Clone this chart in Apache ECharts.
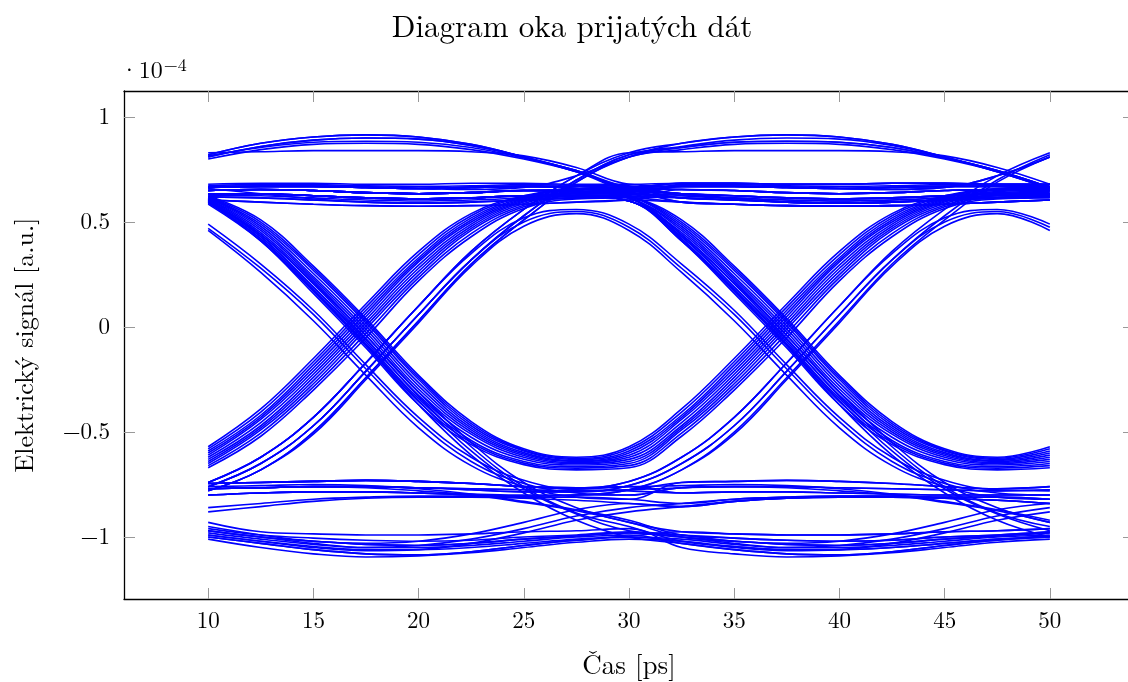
<!DOCTYPE html>
<html>
<head>
<meta charset="utf-8">
<script src="https://cdn.jsdelivr.net/npm/echarts@6/dist/echarts.min.js"></script>
<style>html,body{margin:0;padding:0;background:#fff}#c{width:1128px;height:682px}</style>
</head>
<body>
<div id="c"></div>
<script>
// time samples (ps): first and second unit interval of the eye
const timeA = [10, 12.5, 15, 17.5, 20, 22.5, 25, 27.5, 30];
const timeB = [30, 32.5, 35, 37.5, 40, 42.5, 45, 47.5, 50];
const xTicks = [10, 15, 20, 25, 30, 35, 40, 45, 50];
const yTicks = [-1, -0.5, 0, 0.5, 1];

// signal (x 1e-4) of each trace family over one unit interval
const topHump1 = [0.82, 0.875, 0.905, 0.915, 0.905, 0.87, 0.81, 0.74, 0.66];
const topHump2 = [0.81, 0.86, 0.89, 0.90, 0.895, 0.865, 0.81, 0.745, 0.665];
const topHump3 = [0.80, 0.845, 0.87, 0.875, 0.87, 0.845, 0.80, 0.74, 0.66];
const topHump4 = [0.815, 0.855, 0.88, 0.885, 0.88, 0.855, 0.805, 0.745, 0.665];
const topFlat  = [0.83, 0.835, 0.84, 0.84, 0.84, 0.835, 0.815, 0.76, 0.68];
const highToTop = [0.665, 0.67, 0.67, 0.665, 0.66, 0.655, 0.665, 0.72, 0.81];
const high1  = [0.68, 0.685, 0.685, 0.68, 0.68, 0.685, 0.685, 0.68, 0.68];
const high2  = [0.665, 0.67, 0.67, 0.665, 0.66, 0.665, 0.67, 0.67, 0.665];
const high2b = [0.673, 0.678, 0.678, 0.672, 0.67, 0.673, 0.678, 0.675, 0.672];
const high3  = [0.65, 0.655, 0.65, 0.64, 0.635, 0.64, 0.65, 0.655, 0.65];
const high4  = [0.635, 0.635, 0.625, 0.615, 0.61, 0.615, 0.625, 0.635, 0.635];
const high4b = [0.628, 0.625, 0.615, 0.605, 0.60, 0.605, 0.615, 0.625, 0.628];
const high5  = [0.62, 0.615, 0.605, 0.595, 0.59, 0.595, 0.605, 0.615, 0.62];
const high6  = [0.605, 0.595, 0.585, 0.578, 0.575, 0.578, 0.585, 0.595, 0.605];
const highSettle = [0.66, 0.635, 0.61, 0.595, 0.59, 0.595, 0.605, 0.615, 0.62];
const highDroop1 = [0.665, 0.67, 0.67, 0.665, 0.66, 0.665, 0.67, 0.66, 0.625];
const highDroop2 = [0.65, 0.655, 0.65, 0.64, 0.635, 0.64, 0.65, 0.645, 0.615];
const highDroop3 = [0.635, 0.635, 0.625, 0.615, 0.61, 0.615, 0.625, 0.625, 0.60];
const riseFast1  = [-0.57, -0.39, -0.15, 0.11, 0.36, 0.54, 0.625, 0.66, 0.665];
const riseFast1b = [-0.58, -0.405, -0.165, 0.095, 0.345, 0.53, 0.62, 0.657, 0.662];
const riseFast2  = [-0.59, -0.42, -0.18, 0.08, 0.33, 0.52, 0.615, 0.655, 0.66];
const riseFast2b = [-0.60, -0.43, -0.195, 0.065, 0.32, 0.51, 0.61, 0.65, 0.655];
const riseFast3  = [-0.61, -0.44, -0.21, 0.05, 0.31, 0.50, 0.605, 0.645, 0.65];
const riseFast3b = [-0.62, -0.455, -0.225, 0.035, 0.295, 0.49, 0.60, 0.64, 0.645];
const riseFast4  = [-0.63, -0.47, -0.24, 0.02, 0.28, 0.48, 0.595, 0.635, 0.64];
const riseFast4b = [-0.64, -0.48, -0.255, 0.005, 0.265, 0.47, 0.588, 0.63, 0.635];
const riseFast5  = [-0.65, -0.49, -0.27, -0.01, 0.25, 0.46, 0.58, 0.625, 0.63];
const riseFast5b = [-0.66, -0.505, -0.285, -0.03, 0.235, 0.445, 0.573, 0.618, 0.622];
const riseFast6  = [-0.67, -0.52, -0.30, -0.05, 0.22, 0.43, 0.565, 0.61, 0.615];
const fallValley1  = [0.625, 0.51, 0.29, 0.04, -0.23, -0.45, -0.58, -0.62, -0.57];
const fallValley1b = [0.622, 0.50, 0.28, 0.03, -0.24, -0.46, -0.585, -0.625, -0.58];
const fallValley2  = [0.62, 0.49, 0.27, 0.02, -0.25, -0.47, -0.59, -0.63, -0.59];
const fallValley2b = [0.617, 0.48, 0.255, 0.005, -0.265, -0.48, -0.598, -0.635, -0.60];
const fallValley3  = [0.615, 0.47, 0.24, -0.01, -0.28, -0.49, -0.605, -0.64, -0.61];
const fallValley3b = [0.612, 0.46, 0.23, -0.025, -0.295, -0.50, -0.612, -0.645, -0.62];
const fallValley4  = [0.61, 0.45, 0.22, -0.04, -0.31, -0.51, -0.62, -0.65, -0.63];
const fallValley4b = [0.605, 0.44, 0.205, -0.055, -0.325, -0.525, -0.63, -0.657, -0.64];
const fallValley5  = [0.60, 0.43, 0.19, -0.07, -0.34, -0.54, -0.64, -0.665, -0.65];
const fallValley5b = [0.597, 0.42, 0.175, -0.085, -0.355, -0.55, -0.648, -0.672, -0.66];
const fallValley6  = [0.595, 0.41, 0.16, -0.10, -0.37, -0.56, -0.655, -0.68, -0.67];
const fallBottom1 = [0.60, 0.44, 0.21, -0.04, -0.31, -0.55, -0.74, -0.86, -0.93];
const fallBottom2 = [0.59, 0.42, 0.18, -0.08, -0.35, -0.59, -0.77, -0.89, -0.97];
const fallBottom3 = [0.585, 0.41, 0.17, -0.09, -0.37, -0.61, -0.79, -0.92, -1.00];
const fallBottom4 = [0.605, 0.43, 0.19, -0.06, -0.33, -0.57, -0.76, -0.885, -0.95];
const fallFast1 = [0.49, 0.30, 0.08, -0.18, -0.43, -0.62, -0.73, -0.775, -0.78];
const fallFast2 = [0.47, 0.28, 0.06, -0.20, -0.45, -0.64, -0.745, -0.79, -0.80];
const fallFast3 = [0.46, 0.26, 0.03, -0.23, -0.48, -0.66, -0.76, -0.81, -0.82];
const riseHump1 = [-0.74, -0.62, -0.43, -0.17, 0.10, 0.35, 0.52, 0.56, 0.49];
const riseHump2 = [-0.76, -0.65, -0.47, -0.21, 0.06, 0.32, 0.50, 0.55, 0.475];
const riseHump3 = [-0.78, -0.68, -0.51, -0.25, 0.02, 0.29, 0.48, 0.54, 0.46];
const riseTop1 = [-0.74, -0.62, -0.43, -0.17, 0.10, 0.36, 0.56, 0.72, 0.83];
const riseTop2 = [-0.76, -0.65, -0.47, -0.21, 0.06, 0.32, 0.53, 0.70, 0.82];
const riseTop3 = [-0.78, -0.68, -0.50, -0.24, 0.03, 0.30, 0.51, 0.69, 0.81];
const low1 = [-0.745, -0.74, -0.735, -0.73, -0.735, -0.745, -0.76, -0.77, -0.76];
const low2 = [-0.77, -0.765, -0.76, -0.76, -0.765, -0.77, -0.775, -0.78, -0.775];
const low3 = [-0.80, -0.79, -0.785, -0.785, -0.79, -0.795, -0.80, -0.80, -0.80];
const low4 = [-0.86, -0.84, -0.82, -0.81, -0.805, -0.805, -0.81, -0.81, -0.82];
const low5 = [-0.88, -0.855, -0.83, -0.815, -0.81, -0.81, -0.815, -0.825, -0.84];
const lowLift1 = [-0.745, -0.74, -0.735, -0.73, -0.735, -0.745, -0.76, -0.765, -0.735];
const lowLift2 = [-0.77, -0.765, -0.76, -0.76, -0.765, -0.775, -0.785, -0.785, -0.755];
const lowLift3 = [-0.80, -0.79, -0.785, -0.785, -0.79, -0.80, -0.805, -0.80, -0.775];
const lowToBottom1 = [-0.77, -0.765, -0.76, -0.765, -0.78, -0.80, -0.835, -0.875, -0.93];
const lowToBottom2 = [-0.76, -0.755, -0.75, -0.755, -0.77, -0.795, -0.83, -0.87, -0.92];
const bottomToLow1 = [-0.95, -0.99, -1.02, -1.03, -1.02, -0.985, -0.93, -0.87, -0.84];
const bottomToLow2 = [-0.97, -1.0, -1.03, -1.05, -1.04, -1.01, -0.96, -0.90, -0.86];
const bottomToLow3 = [-0.99, -1.02, -1.05, -1.065, -1.06, -1.03, -0.98, -0.92, -0.88];
const bottom1 = [-0.93, -0.975, -0.985, -0.99, -0.99, -0.985, -0.975, -0.97, -0.96];
const bottom2 = [-0.97, -1.0, -1.02, -1.035, -1.04, -1.03, -1.01, -0.995, -0.98];
const bottom3 = [-1.0, -1.03, -1.06, -1.08, -1.085, -1.07, -1.04, -1.015, -1.0];
const bottom4 = [-1.01, -1.05, -1.08, -1.095, -1.09, -1.075, -1.05, -1.025, -1.01];
const bottom5 = [-0.99, -1.02, -1.045, -1.06, -1.06, -1.05, -1.03, -1.01, -0.995];
const bottom6 = [-0.96, -0.99, -1.005, -1.015, -1.02, -1.015, -1.0, -0.99, -0.975];
const bottom7 = [-0.98, -1.01, -1.035, -1.05, -1.05, -1.04, -1.02, -1.0, -0.99];

// each received trace: family in first interval -> family in second interval
const traces = [
  [riseTop1, topHump1], [riseTop2, topHump2], [riseTop3, topHump3], [highToTop, topHump4],
  [riseTop1, topFlat], [riseTop3, topHump1], [riseTop2, topHump4],
  [topHump1, highSettle], [topHump2, high2], [topHump3, highSettle], [topHump4, high3],
  [topFlat, highToTop], [topHump2, high4], [topHump1, high1],
  [high1, high1], [high2, high1], [high3, high6], [high4, high2], [high5, high5], [high6, high3],
  [highSettle, high4], [high2, highToTop], [high5, high2], [high4, high5], [high3, high4], [high6, high6],
  [high2b, high4b], [high4b, high2b],
  [highDroop1, fallValley1], [highDroop1, fallValley2b], [highDroop2, fallValley3], [highDroop2, fallValley4b],
  [highDroop3, fallValley6], [highDroop3, fallBottom3], [highDroop2, fallBottom1], [highDroop1, fallValley1b],
  [highDroop3, fallValley5], [highDroop1, fallValley2], [highDroop2, fallValley3b], [highDroop3, fallValley4],
  [highDroop2, fallBottom2], [highDroop3, fallBottom4], [highDroop2, fallValley5b],
  [riseFast1, high2], [riseFast1b, high1], [riseFast2, high3], [riseFast2b, high3], [riseFast3, high5],
  [riseFast3b, high4], [riseFast4, high6], [riseFast4b, high5], [riseFast5, highSettle], [riseFast6, high6],
  [riseFast5b, high4b],
  [fallValley1, riseFast1], [fallValley1b, riseFast1b], [fallValley2, riseFast2], [fallValley2b, riseFast2b],
  [fallValley3, riseFast3], [fallValley3b, riseFast3b], [fallValley4, riseFast4], [fallValley4b, riseFast4b],
  [fallValley5, riseFast5], [fallValley6, riseFast6], [fallValley5b, riseFast5b],
  [fallBottom1, bottom1], [fallBottom2, bottomToLow1], [fallBottom3, bottom3], [fallBottom4, bottom5],
  [fallFast1, low3], [fallFast2, low2], [fallFast3, low1],
  [riseHump1, fallFast1], [riseHump2, fallFast2], [riseHump3, fallFast3],
  [low1, low3], [low2, low1], [low3, low2], [low4, low4], [low5, low5], [low2, lowToBottom1], [low1, lowToBottom2],
  [lowLift1, riseTop1], [lowLift2, riseTop2], [lowLift3, riseTop3],
  [lowLift1, riseHump1], [lowLift2, riseHump2], [lowLift3, riseHump3],
  [lowToBottom1, bottom2], [lowToBottom2, bottom6],
  [bottomToLow1, low5], [bottomToLow2, low4], [bottomToLow3, low5],
  [bottom1, bottom4], [bottom2, bottomToLow2], [bottom3, bottomToLow3], [bottom4, bottom5],
  [bottom5, bottom1], [bottom2, bottom2], [bottom6, bottom6], [bottom7, bottom3], [bottom3, bottom7]
];

const series = traces.map(([a, b]) => ({
  type: 'line',
  data: timeA.map((t, i) => [t, a[i]]).concat(timeB.slice(1).map((t, i) => [t, b[i + 1]])),
  smooth: 0.4, symbol: 'none', silent: true,
  lineStyle: { color: '#0000ff', width: 1.6 }
}));

const serif = '"Latin Modern Roman","CMU Serif","Liberation Serif","DejaVu Serif",serif';
const fmt = v => { const s = String(v); return v < 0 ? '\u2212' + s.slice(1) : s; };
const tickStyle = { show: true, inside: true, length: 11, lineStyle: { color: '#999', width: 1 } };
const axisLine = { show: true, onZero: false, lineStyle: { color: '#000', width: 1.3 } };

const chart = echarts.init(document.getElementById('c'), null, { renderer: 'canvas' });
chart.setOption({
  animation: false,
  backgroundColor: '#fff',
  title: {
    text: 'Diagram oka prijatých dát', left: 567, top: 7, textAlign: 'center',
    textStyle: { fontFamily: serif, fontSize: 31, fontWeight: 'normal', color: '#000' }
  },
  grid: { left: 124, top: 91, width: 1010, height: 508, containLabel: false, outerBoundsMode: 'none' },
  xAxis: [
    { type: 'value', min: 6, max: 54, position: 'bottom', axisLine: axisLine,
      axisTick: Object.assign({ customValues: xTicks }, tickStyle),
      axisLabel: { customValues: xTicks, formatter: fmt, fontFamily: serif, fontSize: 23, color: '#000', margin: 10 },
      splitLine: { show: false },
      name: 'Čas [ps]', nameLocation: 'middle', nameGap: 53,
      nameTextStyle: { fontFamily: serif, fontSize: 27, color: '#000' } },
    { type: 'value', min: 6, max: 54, position: 'top', axisLine: axisLine,
      axisTick: Object.assign({ customValues: xTicks }, tickStyle),
      axisLabel: { show: false }, splitLine: { show: false } }
  ],
  yAxis: [
    { type: 'value', min: -1.295, max: 1.124, position: 'left', axisLine: axisLine,
      axisTick: Object.assign({ customValues: yTicks }, tickStyle),
      axisLabel: { customValues: yTicks, formatter: fmt, fontFamily: serif, fontSize: 23, color: '#000', margin: 14 },
      splitLine: { show: false },
      name: 'Elektrický signál [a.u.]', nameLocation: 'middle', nameGap: 86, nameRotate: 90,
      nameTextStyle: { fontFamily: serif, fontSize: 26, color: '#000' } },
    { type: 'value', min: -1.295, max: 1.124, position: 'right', axisLine: axisLine,
      axisTick: Object.assign({ customValues: yTicks }, tickStyle),
      axisLabel: { show: false }, splitLine: { show: false } }
  ],
  graphic: [{
    type: 'text', left: 120, top: 56,
    style: { text: '·10{s|\u22124}', font: '24px ' + serif, fill: '#000',
      rich: { s: { fontSize: 18, fontFamily: serif, verticalAlign: 'top', padding: [0, 0, 12, 1] } } }
  }],
  series: series
});
</script>
</body>
</html>
